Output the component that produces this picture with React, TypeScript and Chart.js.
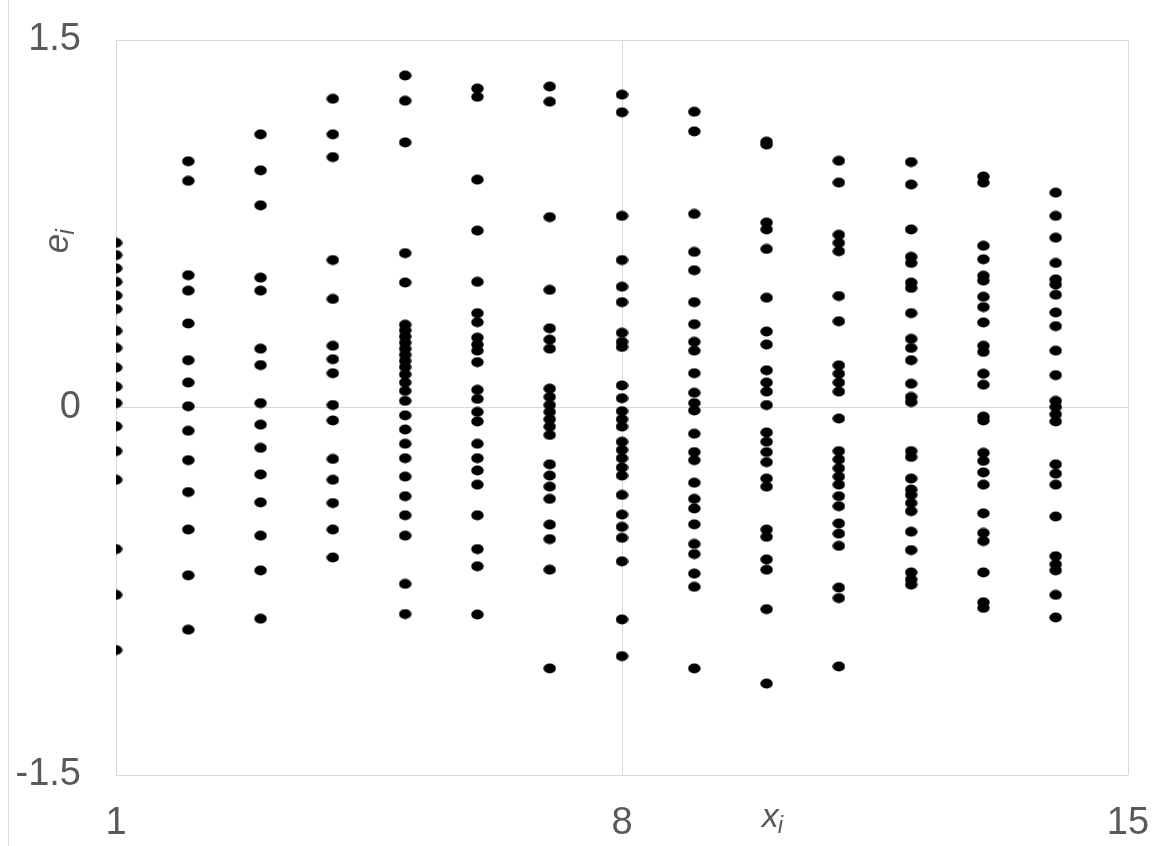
import React, { useEffect, useRef } from "react";
import { Chart, registerables } from "chart.js";

Chart.register(...registerables);

// x positions of the residual columns
const xValues = [1, 2, 3, 4, 5, 6, 7, 8, 9, 10, 11, 12, 13, 14];

// residuals e_i read at each x
const eAt1 = [0.672, 0.622, 0.568, 0.513, 0.457, 0.402, 0.313, 0.243, 0.163, 0.085, 0.018, -0.077, -0.178, -0.295, -0.578, -0.765, -0.99];
const eAt2 = [1.005, 0.925, 0.54, 0.477, 0.343, 0.193, 0.102, 0.005, -0.095, -0.215, -0.345, -0.498, -0.685, -0.907];
const eAt3 = [1.115, 0.968, 0.825, 0.53, 0.477, 0.24, 0.173, 0.018, -0.07, -0.165, -0.273, -0.387, -0.523, -0.665, -0.862];
const eAt4 = [1.26, 1.115, 1.022, 0.602, 0.443, 0.252, 0.197, 0.14, 0.01, -0.053, -0.21, -0.295, -0.39, -0.498, -0.612];
const eAt5 = [1.355, 1.252, 1.082, 0.63, 0.51, 0.338, 0.315, 0.29, 0.265, 0.24, 0.215, 0.19, 0.165, 0.135, 0.102, 0.068, 0.027, -0.032, -0.09, -0.148, -0.207, -0.282, -0.362, -0.44, -0.523, -0.72, -0.843];
const eAt6 = [1.302, 1.268, 0.93, 0.722, 0.513, 0.385, 0.348, 0.285, 0.257, 0.232, 0.185, 0.072, 0.035, -0.018, -0.057, -0.148, -0.207, -0.257, -0.315, -0.44, -0.578, -0.648, -0.845];
const eAt7 = [1.31, 1.248, 0.777, 0.48, 0.323, 0.277, 0.24, 0.077, 0.043, 0.01, -0.018, -0.048, -0.078, -0.112, -0.232, -0.278, -0.323, -0.373, -0.478, -0.537, -0.662, -1.065];
const eAt8 = [1.277, 1.205, 0.782, 0.602, 0.493, 0.43, 0.305, 0.268, 0.247, 0.09, 0.038, -0.015, -0.048, -0.078, -0.14, -0.173, -0.207, -0.245, -0.278, -0.357, -0.437, -0.487, -0.532, -0.628, -0.865, -1.015];
const eAt9 = [1.207, 1.127, 0.79, 0.635, 0.56, 0.43, 0.34, 0.268, 0.232, 0.14, 0.06, 0.018, -0.012, -0.107, -0.182, -0.215, -0.307, -0.373, -0.412, -0.477, -0.557, -0.598, -0.678, -0.732, -1.065];
const eAt10 = [1.085, 1.073, 0.755, 0.727, 0.647, 0.448, 0.31, 0.257, 0.152, 0.102, 0.065, 0.01, -0.102, -0.14, -0.182, -0.223, -0.29, -0.323, -0.498, -0.528, -0.62, -0.662, -0.823, -1.127];
const eAt11 = [1.007, 0.918, 0.705, 0.672, 0.638, 0.455, 0.352, 0.172, 0.138, 0.102, 0.065, -0.045, -0.178, -0.212, -0.248, -0.282, -0.315, -0.362, -0.403, -0.473, -0.515, -0.565, -0.735, -0.778, -1.057];
const eAt12 = [1.002, 0.91, 0.727, 0.615, 0.59, 0.51, 0.488, 0.385, 0.28, 0.243, 0.193, 0.097, 0.043, 0.022, -0.178, -0.202, -0.29, -0.335, -0.357, -0.39, -0.423, -0.507, -0.582, -0.673, -0.702, -0.723];
const eAt13 = [0.943, 0.918, 0.66, 0.605, 0.538, 0.518, 0.452, 0.41, 0.347, 0.252, 0.227, 0.138, 0.093, -0.037, -0.053, -0.185, -0.218, -0.265, -0.315, -0.432, -0.512, -0.545, -0.673, -0.795, -0.818];
const eAt14 = [0.877, 0.782, 0.693, 0.59, 0.523, 0.502, 0.46, 0.388, 0.332, 0.232, 0.132, 0.027, 0.002, -0.028, -0.057, -0.232, -0.27, -0.315, -0.445, -0.607, -0.64, -0.665, -0.765, -0.857];

const residualColumns = [eAt1, eAt2, eAt3, eAt4, eAt5, eAt6, eAt7, eAt8, eAt9, eAt10, eAt11, eAt12, eAt13, eAt14];

// axes
const xTicks = [1, 8, 15];
const xTickLabels = ["1", "8", "15"];
const yTicks = [-1.5, 0, 1.5];
const yTickLabels = ["-1.5", "0", "1.5"];
const xTitle = "x";
const xTitleSub = "i";
const yTitle = "e";
const yTitleSub = "i";
const xTitleAt = 10.05;
const yTitleAt = 0.63;

const TEXT = "#595959";
const GRID = "#d9d9d9";
const FONT = '"Liberation Sans", Arial, sans-serif';

function makeDot(): HTMLCanvasElement {
  const c = document.createElement("canvas");
  c.width = 13;
  c.height = 11;
  const g = c.getContext("2d")!;
  g.fillStyle = "#000000";
  g.beginPath();
  g.ellipse(6.5, 5.5, 6.2, 5.0, 0, 0, Math.PI * 2);
  g.fill();
  return c;
}

const decorPlugin = {
  id: "decor",
  beforeDraw(chart: any) {
    const ctx = chart.ctx;
    ctx.save();
    ctx.strokeStyle = GRID;
    ctx.lineWidth = 1;
    ctx.beginPath();
    ctx.moveTo(8.5, 0);
    ctx.lineTo(8.5, chart.height);
    ctx.stroke();
    ctx.restore();
  },
  afterDraw(chart: any) {
    const ctx = chart.ctx;
    const x = chart.scales.x;
    const y = chart.scales.y;
    ctx.save();
    ctx.fillStyle = TEXT;
    ctx.textAlign = "left";
    ctx.textBaseline = "alphabetic";
    // x title
    ctx.font = `italic 34px ${FONT}`;
    const wx = ctx.measureText(xTitle).width;
    const px = x.getPixelForValue(xTitleAt);
    const base = chart.chartArea.bottom + 52;
    ctx.fillText(xTitle, px - wx / 2, base);
    ctx.font = `italic 24px ${FONT}`;
    ctx.fillText(xTitleSub, px + wx / 2 - 1, base + 6);
    // y title (rotated)
    const py = y.getPixelForValue(yTitleAt);
    ctx.translate(68, py);
    ctx.rotate(-Math.PI / 2);
    ctx.font = `italic 35px ${FONT}`;
    const we = ctx.measureText(yTitle).width;
    ctx.fillText(yTitle, 0, 0);
    ctx.font = `italic 25px ${FONT}`;
    ctx.fillText(yTitleSub, we - 1, 6);
    ctx.restore();
  },
};

export default function App() {
  const ref = useRef<HTMLCanvasElement | null>(null);

  useEffect(() => {
    if (!ref.current) return;
    const dot = makeDot();
    const points: { x: number; y: number }[] = [];
    xValues.forEach((xv, i) => {
      residualColumns[i].forEach((e) => points.push({ x: xv, y: e }));
    });

    const chart = new Chart(ref.current, {
      type: "scatter",
      data: {
        datasets: [
          {
            data: points,
            pointStyle: dot as any,
            pointRadius: 6,
            backgroundColor: "#000",
            borderColor: "#000",
          },
        ],
      },
      options: {
        responsive: false,
        animation: false,
        devicePixelRatio: 1,
        layout: { padding: { top: 40, right: 32, left: 0, bottom: 0 } },
        plugins: { legend: { display: false }, tooltip: { enabled: false } },
        scales: {
          x: {
            type: "linear",
            min: 1,
            max: 15,
            afterBuildTicks: (s: any) => {
              s.ticks = xTicks.map((v) => ({ value: v }));
            },
            afterFit: (s: any) => {
              s.height = 71;
              s.paddingLeft = 0;
              s.paddingRight = 0;
            },
            ticks: {
              callback: (v: any) => {
                const i = xTicks.indexOf(Number(v));
                return i >= 0 ? xTickLabels[i] : "";
              },
              color: TEXT,
              font: { family: FONT, size: 38, lineHeight: 1 },
              padding: 30,
              maxRotation: 0,
              autoSkip: false,
            },
            grid: { color: GRID, lineWidth: 1, drawTicks: false },
            border: { display: false },
          },
          y: {
            type: "linear",
            min: -1.5,
            max: 1.5,
            afterBuildTicks: (s: any) => {
              s.ticks = yTicks.map((v) => ({ value: v }));
            },
            afterFit: (s: any) => {
              s.width = 116;
              s.paddingTop = 0;
              s.paddingBottom = 0;
            },
            ticks: {
              callback: (v: any) => {
                const i = yTicks.indexOf(Number(v));
                return i >= 0 ? yTickLabels[i] : "";
              },
              color: TEXT,
              font: { family: FONT, size: 38, lineHeight: 1 },
              padding: 35,
              autoSkip: false,
            },
            grid: { color: GRID, lineWidth: 1, drawTicks: false },
            border: { display: false },
          },
        },
      },
      plugins: [decorPlugin],
    });
    return () => chart.destroy();
  }, []);

  return (
    <div style={{ position: "fixed", left: 0, top: 0, width: 1160, height: 846, background: "#fff" }}>
      <canvas ref={ref} width={1160} height={846} style={{ display: "block" }} />
    </div>
  );
}
